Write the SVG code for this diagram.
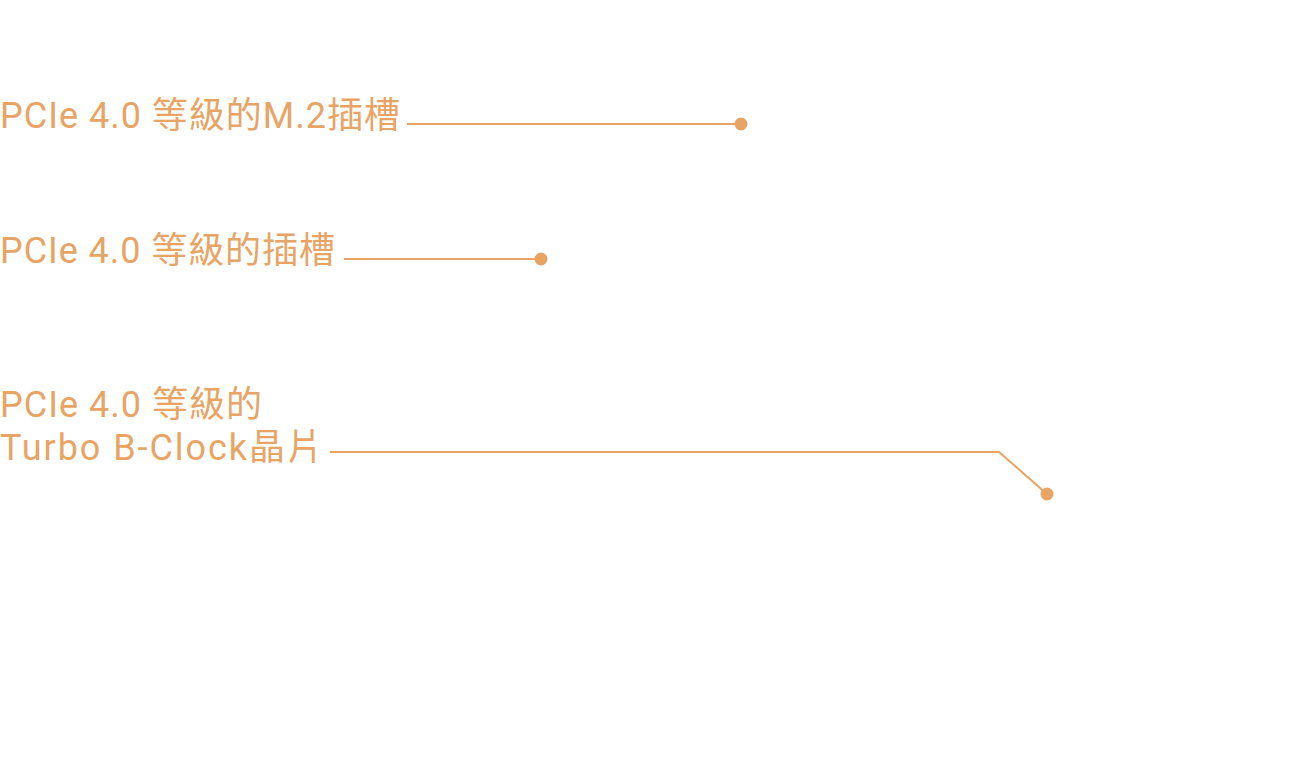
<svg xmlns="http://www.w3.org/2000/svg" width="1300" height="764" viewBox="0 0 1300 764">
<style>
.t{font-family:Roboto,"Noto Sans CJK TC",sans-serif;font-size:36px;fill:#E8A465;font-weight:400}
.c{stroke:#E8A465;stroke-width:2;fill:none}
.d{fill:#E8A465}
</style>
<rect width="1300" height="764" fill="#fff"/>
<g id="label1"><text class="t" x="0" y="128" textLength="400">PCIe 4.0 等級的M.2插槽</text></g>
<g id="label2"><text class="t" x="0" y="263" textLength="335">PCIe 4.0 等級的插槽</text></g>
<g id="label3"><text class="t" x="0" y="417" textLength="262">PCIe 4.0 等級的</text><text class="t" x="0" y="460" textLength="323">Turbo B-Clock晶片</text></g>
<g id="connectors">
<path class="c" d="M407 124H741"/><circle class="d" cx="741" cy="124" r="6.5"/>
<path class="c" d="M344 259H541"/><circle class="d" cx="541" cy="259" r="6.5"/>
<path class="c" d="M330 452H999L1047 494"/><circle class="d" cx="1047" cy="494" r="6.5"/>
</g>
</svg>
